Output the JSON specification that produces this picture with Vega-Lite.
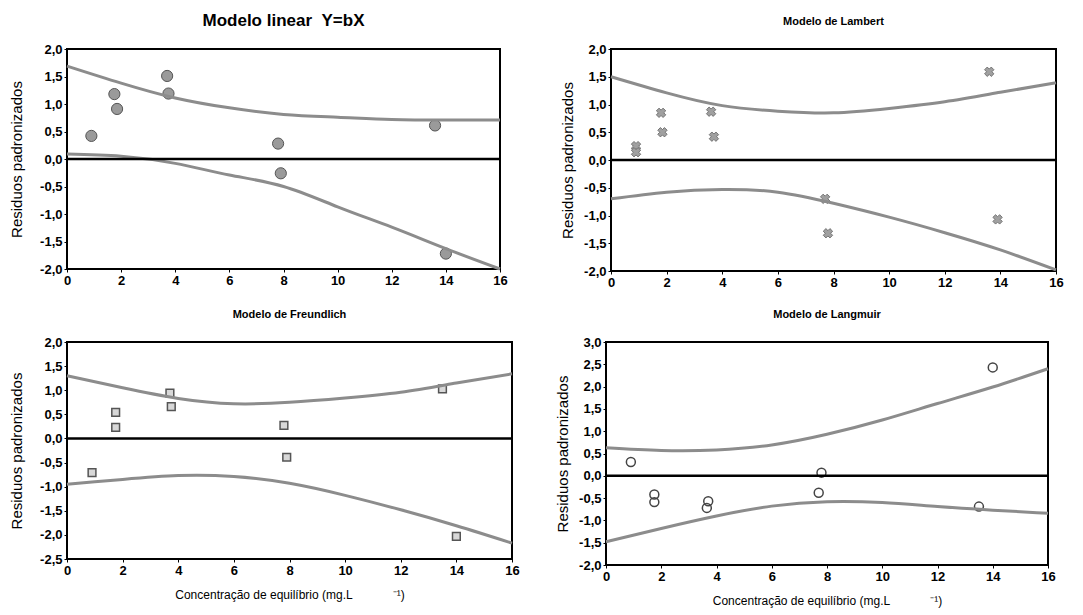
{
  "$schema": "https://vega.github.io/schema/vega-lite/v6.json",
  "background": "white",
  "padding": {"left": 8, "top": 11, "right": 5, "bottom": 5},
  "config": {
    "font": "Liberation Sans",
    "view": {"stroke": "black", "strokeWidth": 2},
    "axis": {"grid": false, "domain": false, "ticks": true, "tickSize": 3, "tickCount": 30, "tickColor": "black", "labelFont": "Liberation Sans", "labelFontWeight": "bold", "labelFontSize": 13, "labelColor": "black", "labelOverlap": false, "labelBound": false, "labelFlush": false, "titleFont": "Liberation Sans", "titleFontWeight": "normal", "titleColor": "black"},
    "title": {"font": "Liberation Sans", "color": "black"}
  },
  "datasets": {
    "zero": [{"y": 0}],
    "p1_pts": [
      {"x": 0.9, "y": 0.42}, {"x": 1.75, "y": 1.18}, {"x": 1.85, "y": 0.91}, {"x": 3.7, "y": 1.51}, {"x": 3.75, "y": 1.19},
      {"x": 7.8, "y": 0.28}, {"x": 7.9, "y": -0.26}, {"x": 13.6, "y": 0.61}, {"x": 14.0, "y": -1.72}
    ],
    "p1_cur": [
      {"x": 0, "y": 1.69, "band": "upper"}, {"x": 2, "y": 1.38, "band": "upper"}, {"x": 4, "y": 1.11, "band": "upper"}, {"x": 6, "y": 0.93, "band": "upper"}, {"x": 8, "y": 0.81, "band": "upper"}, {"x": 10, "y": 0.76, "band": "upper"}, {"x": 12, "y": 0.72, "band": "upper"}, {"x": 14, "y": 0.71, "band": "upper"}, {"x": 16, "y": 0.71, "band": "upper"},
      {"x": 0, "y": 0.09, "band": "lower"}, {"x": 2, "y": 0.05, "band": "lower"}, {"x": 4, "y": -0.08, "band": "lower"}, {"x": 6, "y": -0.29, "band": "lower"}, {"x": 8, "y": -0.5, "band": "lower"}, {"x": 10, "y": -0.87, "band": "lower"}, {"x": 12, "y": -1.24, "band": "lower"}, {"x": 14, "y": -1.63, "band": "lower"}, {"x": 16, "y": -2.0, "band": "lower"}
    ],
    "p2_pts": [
      {"x": 0.9, "y": 0.25}, {"x": 0.9, "y": 0.14}, {"x": 1.8, "y": 0.85}, {"x": 1.85, "y": 0.5}, {"x": 3.6, "y": 0.87}, {"x": 3.7, "y": 0.42},
      {"x": 7.7, "y": -0.7}, {"x": 7.8, "y": -1.32}, {"x": 13.6, "y": 1.59}, {"x": 13.9, "y": -1.07}
    ],
    "p2_cur": [
      {"x": 0, "y": 1.5, "band": "upper"}, {"x": 2, "y": 1.21, "band": "upper"}, {"x": 4, "y": 0.98, "band": "upper"}, {"x": 6, "y": 0.88, "band": "upper"}, {"x": 8, "y": 0.85, "band": "upper"}, {"x": 10, "y": 0.93, "band": "upper"}, {"x": 12, "y": 1.05, "band": "upper"}, {"x": 14, "y": 1.22, "band": "upper"}, {"x": 16, "y": 1.39, "band": "upper"},
      {"x": 0, "y": -0.7, "band": "lower"}, {"x": 2, "y": -0.58, "band": "lower"}, {"x": 4, "y": -0.53, "band": "lower"}, {"x": 6, "y": -0.58, "band": "lower"}, {"x": 8, "y": -0.78, "band": "lower"}, {"x": 10, "y": -1.03, "band": "lower"}, {"x": 12, "y": -1.31, "band": "lower"}, {"x": 14, "y": -1.62, "band": "lower"}, {"x": 16, "y": -1.98, "band": "lower"}
    ],
    "p3_pts": [
      {"x": 0.9, "y": -0.71}, {"x": 1.75, "y": 0.54}, {"x": 1.75, "y": 0.23}, {"x": 3.7, "y": 0.94}, {"x": 3.75, "y": 0.66},
      {"x": 7.8, "y": 0.27}, {"x": 7.9, "y": -0.39}, {"x": 13.5, "y": 1.03}, {"x": 14.0, "y": -2.03}
    ],
    "p3_cur": [
      {"x": 0, "y": 1.3, "band": "upper"}, {"x": 2, "y": 1.05, "band": "upper"}, {"x": 4, "y": 0.83, "band": "upper"}, {"x": 6, "y": 0.72, "band": "upper"}, {"x": 8, "y": 0.75, "band": "upper"}, {"x": 10, "y": 0.84, "band": "upper"}, {"x": 12, "y": 0.96, "band": "upper"}, {"x": 14, "y": 1.15, "band": "upper"}, {"x": 16, "y": 1.34, "band": "upper"},
      {"x": 0, "y": -0.95, "band": "lower"}, {"x": 2, "y": -0.85, "band": "lower"}, {"x": 4, "y": -0.77, "band": "lower"}, {"x": 6, "y": -0.79, "band": "lower"}, {"x": 8, "y": -0.93, "band": "lower"}, {"x": 10, "y": -1.18, "band": "lower"}, {"x": 12, "y": -1.48, "band": "lower"}, {"x": 14, "y": -1.81, "band": "lower"}, {"x": 16, "y": -2.17, "band": "lower"}
    ],
    "p4_pts": [
      {"x": 0.9, "y": 0.31}, {"x": 1.75, "y": -0.42}, {"x": 1.75, "y": -0.59}, {"x": 3.7, "y": -0.57}, {"x": 3.65, "y": -0.72},
      {"x": 7.8, "y": 0.07}, {"x": 7.7, "y": -0.38}, {"x": 13.5, "y": -0.69}, {"x": 14.0, "y": 2.43}
    ],
    "p4_cur": [
      {"x": 0, "y": 0.63, "band": "upper"}, {"x": 2, "y": 0.57, "band": "upper"}, {"x": 4, "y": 0.58, "band": "upper"}, {"x": 6, "y": 0.69, "band": "upper"}, {"x": 8, "y": 0.93, "band": "upper"}, {"x": 10, "y": 1.25, "band": "upper"}, {"x": 12, "y": 1.62, "band": "upper"}, {"x": 14, "y": 1.99, "band": "upper"}, {"x": 16, "y": 2.4, "band": "upper"},
      {"x": 0, "y": -1.48, "band": "lower"}, {"x": 2, "y": -1.18, "band": "lower"}, {"x": 4, "y": -0.9, "band": "lower"}, {"x": 6, "y": -0.68, "band": "lower"}, {"x": 8, "y": -0.58, "band": "lower"}, {"x": 10, "y": -0.6, "band": "lower"}, {"x": 12, "y": -0.69, "band": "lower"}, {"x": 14, "y": -0.77, "band": "lower"}, {"x": 16, "y": -0.84, "band": "lower"}
    ]
  },
  "vconcat": [
    {
      "spacing": 50,
      "hconcat": [
        {
          "title": {"text": "Modelo linear\u00a0\u00a0Y=bX", "fontSize": 17, "fontWeight": "bold", "offset": 13},
          "width": 433, "height": 220,
          "layer": [
            {"data": {"name": "p1_pts"}, "mark": {"type": "point", "shape": "circle", "filled": true, "fill": "#9a9a9a", "stroke": "#555", "strokeWidth": 1, "size": 125, "opacity": 1},
             "encoding": {
               "x": {"field": "x", "type": "quantitative", "scale": {"domain": [0, 16], "nice": false}, "axis": {"values": [0,2,4,6,8,10,12,14,16], "format": "d", "tickCount": 30, "labelOverlap": false, "title": null}},
               "y": {"field": "y", "type": "quantitative", "scale": {"domain": [-2, 2], "nice": false}, "axis": {"values": [-2,-1.5,-1,-0.5,0,0.5,1,1.5,2], "tickCount": 30, "labelOverlap": false, "labelExpr": "replace(replace(format(datum.value, '.1f'), '.', ','), '\u2212', '-')", "title": "Residuos padronizados", "titleFontSize": 15, "titlePadding": 15}}
             }},
            {"data": {"name": "p1_cur"}, "mark": {"type": "line", "color": "#8c8c8c", "strokeWidth": 3, "interpolate": "natural"},
             "encoding": {"x": {"field": "x", "type": "quantitative"}, "y": {"field": "y", "type": "quantitative"}, "detail": {"field": "band"}}},
            {"data": {"name": "zero"}, "mark": {"type": "rule", "color": "black", "strokeWidth": 2.5}, "encoding": {"y": {"field": "y", "type": "quantitative"}}}
          ]
        },
        {
          "title": {"text": "Modelo de Lambert", "fontSize": 11, "fontWeight": "bold", "offset": 16},
          "width": 445, "height": 222,
          "layer": [
            {"data": {"name": "p2_pts"}, "mark": {"type": "point", "shape": "cross", "angle": 45, "filled": true, "fill": "#a0a0a0", "stroke": "#666", "strokeWidth": 0.8, "size": 90, "opacity": 1},
             "encoding": {
               "x": {"field": "x", "type": "quantitative", "scale": {"domain": [0, 16], "nice": false}, "axis": {"values": [0,2,4,6,8,10,12,14,16], "format": "d", "tickCount": 30, "labelOverlap": false, "title": null}},
               "y": {"field": "y", "type": "quantitative", "scale": {"domain": [-2, 2], "nice": false}, "axis": {"values": [-2,-1.5,-1,-0.5,0,0.5,1,1.5,2], "tickCount": 30, "labelOverlap": false, "labelExpr": "replace(replace(format(datum.value, '.1f'), '.', ','), '\u2212', '-')", "title": "Residuos padronizados", "titleFontSize": 15, "titlePadding": 8}}
             }},
            {"data": {"name": "p2_cur"}, "mark": {"type": "line", "color": "#8c8c8c", "strokeWidth": 3, "interpolate": "natural"},
             "encoding": {"x": {"field": "x", "type": "quantitative"}, "y": {"field": "y", "type": "quantitative"}, "detail": {"field": "band"}}},
            {"data": {"name": "zero"}, "mark": {"type": "rule", "color": "black", "strokeWidth": 2.5}, "encoding": {"y": {"field": "y", "type": "quantitative"}}}
          ]
        }
      ]
    },
    {
      "spacing": 33,
      "hconcat": [
        {
          "title": {"text": "Modelo de Freundlich", "fontSize": 11, "fontWeight": "bold", "offset": 16},
          "width": 445, "height": 217,
          "layer": [
            {"data": {"name": "p3_pts"}, "mark": {"type": "point", "shape": "square", "filled": true, "fill": "#d8d8d8", "stroke": "#555", "strokeWidth": 1.5, "size": 60, "opacity": 1},
             "encoding": {
               "x": {"field": "x", "type": "quantitative", "scale": {"domain": [0, 16], "nice": false}, "axis": {"values": [0,2,4,6,8,10,12,14,16], "format": "d", "tickCount": 30, "labelOverlap": false, "title": "Concentração de equilíbrio (mg.L\u00a0\u00a0\u00a0\u00a0\u00a0\u00a0\u00a0\u00a0\u00a0\u00a0\u00a0\u00a0\u207b\u00b9)", "titleFontSize": 12, "titlePadding": 12}},
               "y": {"field": "y", "type": "quantitative", "scale": {"domain": [-2.5, 2], "nice": false}, "axis": {"values": [-2.5,-2,-1.5,-1,-0.5,0,0.5,1,1.5,2], "tickCount": 30, "labelOverlap": false, "labelExpr": "replace(replace(format(datum.value, '.1f'), '.', ','), '\u2212', '-')", "title": "Residuos padronizados", "titleFontSize": 15, "titlePadding": 15}}
             }},
            {"data": {"name": "p3_cur"}, "mark": {"type": "line", "color": "#8c8c8c", "strokeWidth": 3, "interpolate": "natural"},
             "encoding": {"x": {"field": "x", "type": "quantitative"}, "y": {"field": "y", "type": "quantitative"}, "detail": {"field": "band"}}},
            {"data": {"name": "zero"}, "mark": {"type": "rule", "color": "black", "strokeWidth": 2.5}, "encoding": {"y": {"field": "y", "type": "quantitative"}}}
          ]
        },
        {
          "title": {"text": "Modelo de Langmuir", "fontSize": 11, "fontWeight": "bold", "offset": 16},
          "width": 442, "height": 223,
          "layer": [
            {"data": {"name": "p4_pts"}, "mark": {"type": "point", "shape": "circle", "filled": false, "stroke": "#444", "strokeWidth": 1.5, "size": 80, "opacity": 1},
             "encoding": {
               "x": {"field": "x", "type": "quantitative", "scale": {"domain": [0, 16], "nice": false}, "axis": {"values": [0,2,4,6,8,10,12,14,16], "format": "d", "tickCount": 30, "labelOverlap": false, "title": "Concentração de equilíbrio (mg.L\u00a0\u00a0\u00a0\u00a0\u00a0\u00a0\u00a0\u00a0\u00a0\u00a0\u00a0\u00a0\u207b\u00b9)", "titleFontSize": 12, "titlePadding": 12}},
               "y": {"field": "y", "type": "quantitative", "scale": {"domain": [-2, 3], "nice": false}, "axis": {"values": [-2,-1.5,-1,-0.5,0,0.5,1,1.5,2,2.5,3], "tickCount": 30, "labelOverlap": false, "labelExpr": "replace(replace(format(datum.value, '.1f'), '.', ','), '\u2212', '-')", "title": "Residuos padronizados", "titleFontSize": 15, "titlePadding": 8}}
             }},
            {"data": {"name": "p4_cur"}, "mark": {"type": "line", "color": "#8c8c8c", "strokeWidth": 3, "interpolate": "natural"},
             "encoding": {"x": {"field": "x", "type": "quantitative"}, "y": {"field": "y", "type": "quantitative"}, "detail": {"field": "band"}}},
            {"data": {"name": "zero"}, "mark": {"type": "rule", "color": "black", "strokeWidth": 2.5}, "encoding": {"y": {"field": "y", "type": "quantitative"}}}
          ]
        }
      ]
    }
  ],
  "spacing": 18
}
